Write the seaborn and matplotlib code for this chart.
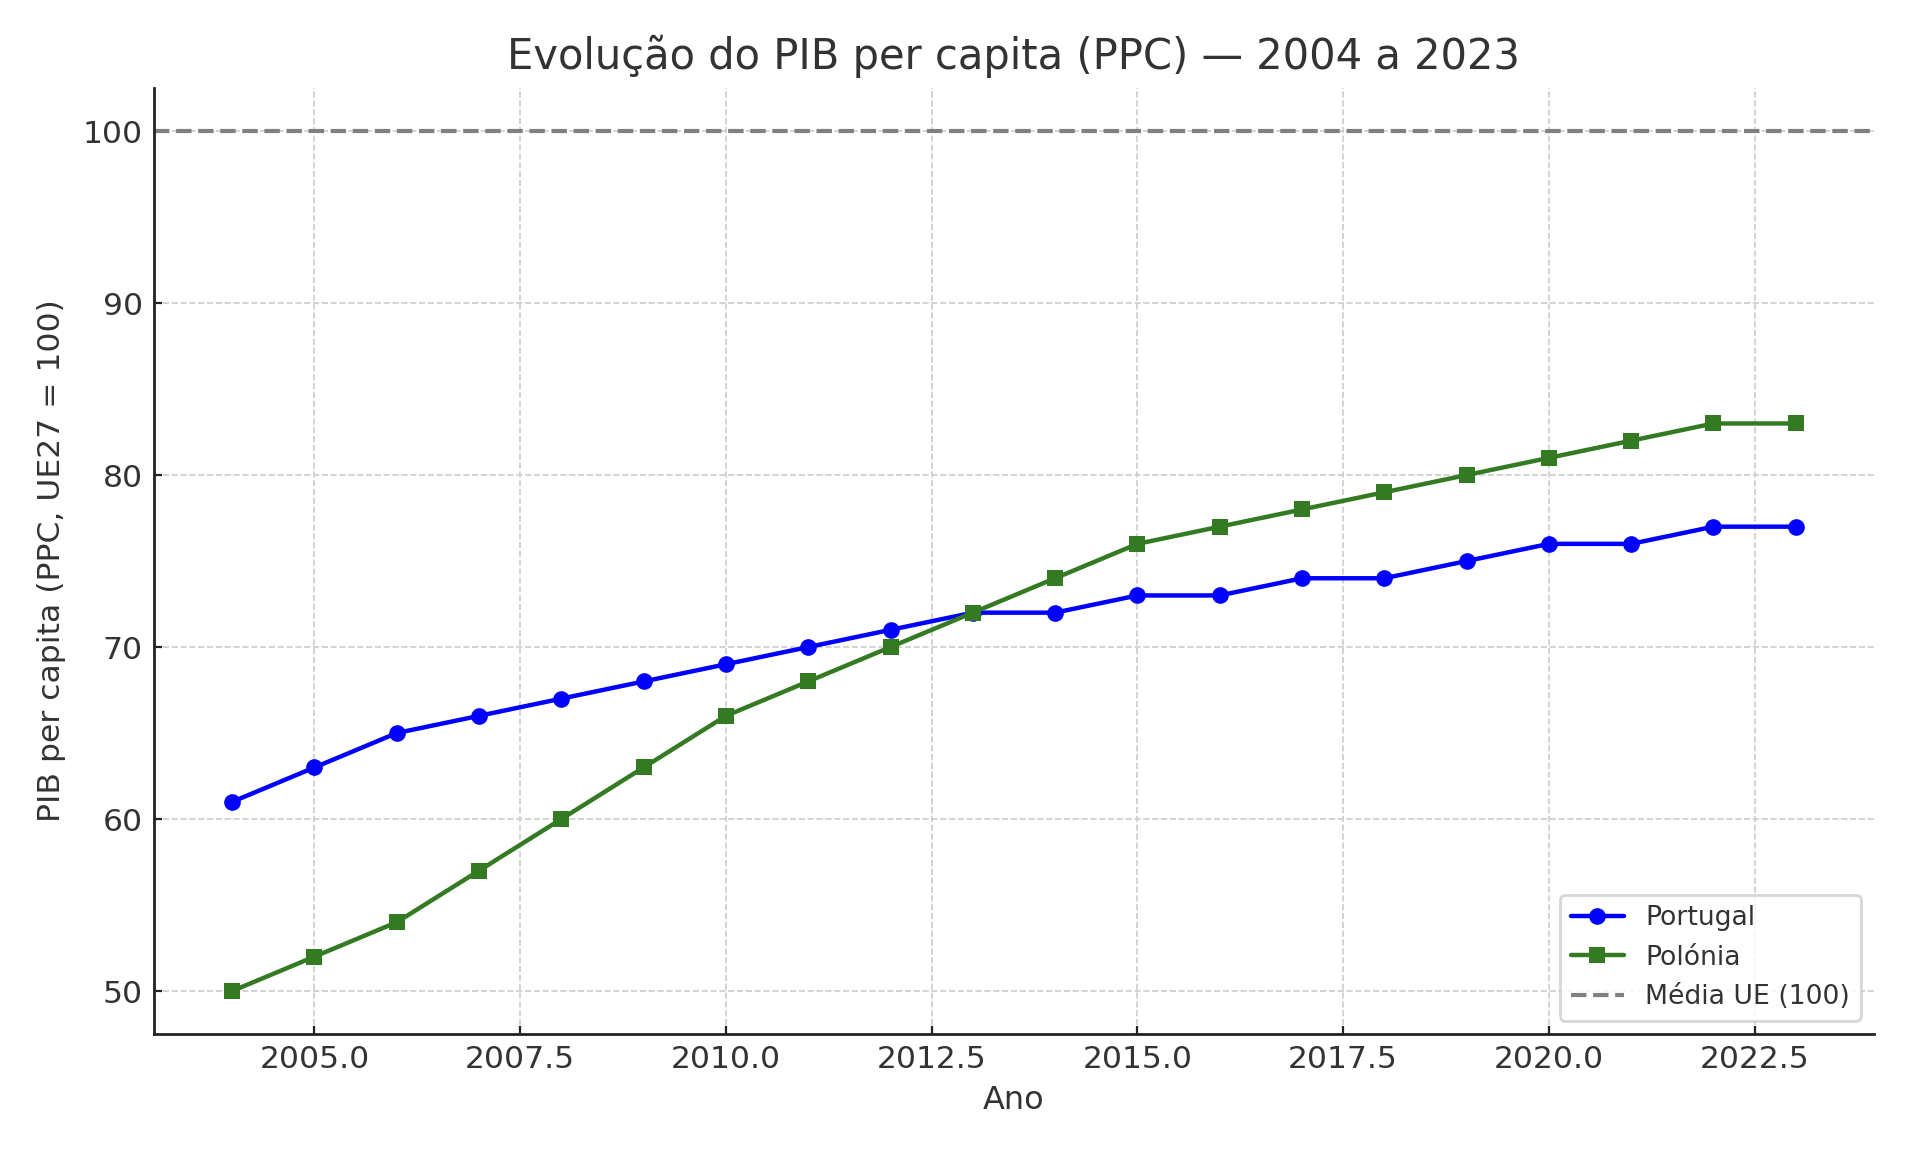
# PIB per capita (PPC) Portugal vs Polonia, 2004-2023
import pandas as pd
import numpy as np
import matplotlib
matplotlib.use('Agg')
import matplotlib.pyplot as plt
import seaborn as sns

# -----------------------------
# Dados
# -----------------------------
anos = list(range(2004, 2024))
portugal = [61, 63, 65, 66, 67, 68, 69, 70, 71, 72, 72, 73, 73, 74, 74, 75, 76, 76, 77, 77]
polonia = [50, 52, 54, 57, 60, 63, 66, 68, 70, 72, 74, 76, 77, 78, 79, 80, 81, 82, 83, 83]
media_ue = 100

df = pd.DataFrame({'Ano': anos, 'Portugal': portugal, 'Polónia': polonia})

# -----------------------------
# Estilo
# -----------------------------
sns.set_style('ticks')
plt.rcParams['font.family'] = ['DejaVu Sans']
plt.rcParams['text.color'] = '#333333'
plt.rcParams['axes.labelcolor'] = '#333333'
plt.rcParams['xtick.color'] = '#222222'
plt.rcParams['ytick.color'] = '#222222'
plt.rcParams['xtick.labelcolor'] = '#333333'
plt.rcParams['ytick.labelcolor'] = '#333333'

fig, ax = plt.subplots(figsize=(9.555, 5.875), dpi=200)
fig.subplots_adjust(left=0.0806, right=0.9806, top=0.925, bottom=0.12)

sns.lineplot(data=df, x='Ano', y='Portugal', marker='o', markersize=6,
             markeredgewidth=0, color='blue', linewidth=1.6, label='Portugal', ax=ax)
sns.lineplot(data=df, x='Ano', y='Polónia', marker='s', markersize=6,
             markeredgewidth=0, color='#347a22', linewidth=1.6, label='Polónia', ax=ax)
ax.axhline(media_ue, color='gray', linestyle='--', linewidth=1.5, label='Média UE (100)')

ax.grid(True, linestyle='--', color='#cccccc', linewidth=0.6)
sns.despine(ax=ax)
for s in ['left', 'bottom']:
    ax.spines[s].set_color('#222222')
    ax.spines[s].set_linewidth(1.0)

ax.tick_params(labelsize=11.3, direction='in', length=3, pad=4)
ax.set_title('Evolução do PIB per capita (PPC) — 2004 a 2023', fontsize=15, pad=7)
ax.set_xlabel('Ano', fontsize=11.5, labelpad=4)
ax.set_ylabel('PIB per capita (PPC, UE27 = 100)', fontsize=11.3, labelpad=6)
ax.legend(loc='lower right', fontsize=9.6, frameon=True)

plt.savefig('out.png')
plt.close()
